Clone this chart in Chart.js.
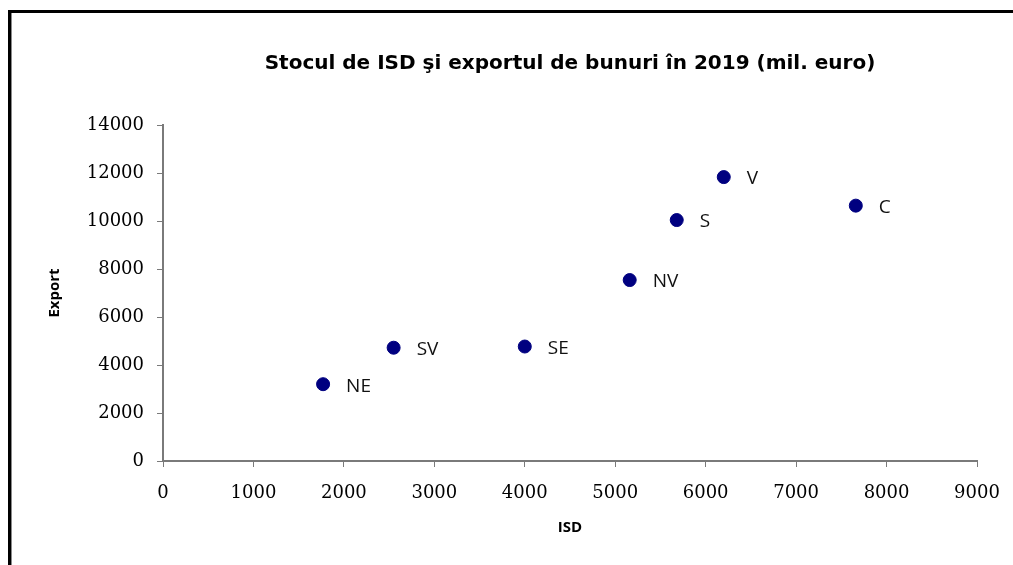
<!DOCTYPE html>
<html>
<head>
<meta charset="utf-8">
<title>Stocul de ISD si exportul de bunuri</title>
<script src="https://cdn.jsdelivr.net/npm/chart.js@4.4.1/dist/chart.umd.min.js"></script>
<style>
	body { margin: 0; background: #fff; }
	#chartBox { width: 1013px; height: 565px; }
</style>
</head>
<body>
<div id="chartBox"><canvas id="isdChart" width="1013" height="565"></canvas></div>
<script>
// values
var regions = ['NE', 'SV', 'SE', 'NV', 'S', 'V', 'C'];
var isdValues = [1770, 2550, 4000, 5160, 5680, 6200, 7660];
var exportValues = [3200, 4720, 4770, 7540, 10040, 11830, 10640];

var xTicks = [0, 1000, 2000, 3000, 4000, 5000, 6000, 7000, 8000, 9000];
var yTicks = [0, 2000, 4000, 6000, 8000, 10000, 12000, 14000];

var titleText = 'Stocul de ISD şi exportul de bunuri în 2019 (mil. euro)';
var xTitle = 'ISD';
var yTitle = 'Export';

var chart = {};

chart.points = function(){
	var pts = [];
	for (var i = 0; i < regions.length; i++) {
		pts.push({x: isdValues[i], y: exportValues[i]});
	}
	return pts;
};

// white page + the black frame of the original picture
chart.framePlugin = {
	id: 'frame',
	beforeDraw: function(c){
		var ctx = c.ctx;
		ctx.save();
		ctx.fillStyle = '#ffffff';
		ctx.fillRect(0, 0, c.width, c.height);
		ctx.restore();
	},
	afterDraw: function(c){
		var ctx = c.ctx;
		ctx.save();
		ctx.fillStyle = '#000000';
		ctx.fillRect(8, 10, c.width - 8, 3);
		ctx.fillRect(8, 10, 3, c.height - 10);
		ctx.fillStyle = '#8a8a8a';
		ctx.fillRect(11, 13, 1, c.height - 13);
		ctx.restore();
	}
};

// region names next to each point
chart.labelPlugin = {
	id: 'pointNames',
	afterDatasetsDraw: function(c){
		var ctx = c.ctx;
		var meta = c.getDatasetMeta(0);
		ctx.save();
		ctx.font = '19px "Open Sans"';
		ctx.fillStyle = '#111111';
		ctx.textAlign = 'left';
		ctx.textBaseline = 'middle';
		meta.data.forEach(function(el, i){
			ctx.fillText(regions[i], el.x + 23, el.y + 2);
		});
		ctx.restore();
	}
};

chart.plainTick = function(value){
	return String(value);
};

chart.init = function(){
	var ctx = document.getElementById('isdChart');

	chart.obj = new Chart(ctx, {
		type: 'scatter',
		data: {
			datasets: [{
				label: 'Regiuni',
				data: chart.points(),
				backgroundColor: '#000080',
				borderColor: '#000080',
				pointRadius: 6.5,
				pointHoverRadius: 6.5
			}]
		},
		options: {
			responsive: false,
			animation: false,
			layout: {
				padding: {left: 0, right: 36, top: 0, bottom: 0}
			},
			plugins: {
				legend: { display: false },
				tooltip: { enabled: false },
				title: {
					display: true,
					text: titleText,
					fullSize: false,
					color: '#000000',
					font: {family: '"DejaVu Sans"', weight: 'bold', size: 20, lineHeight: 1.2},
					padding: {top: 52, bottom: 49}
				}
			},
			scales: {
				x: {
					type: 'linear',
					position: 'bottom',
					min: 0,
					max: 9000,
					afterBuildTicks: function(s){
						s.ticks = xTicks.map(function(v){ return {value: v}; });
					},
					afterFit: function(s){
						s.height = 104;
						s.paddingLeft = 0;
						s.paddingRight = 0;
					},
					ticks: {
						color: '#000000',
						font: {family: '"DejaVu Serif"', size: 18},
						padding: 16,
						maxRotation: 0,
						callback: chart.plainTick
					},
					grid: {
						drawOnChartArea: false,
						drawTicks: true,
						tickLength: 6,
						color: '#7a7a7a',
						lineWidth: 1
					},
					border: { color: '#7a7a7a', width: 2 },
					title: {
						display: true,
						text: xTitle,
						color: '#000000',
						font: {family: '"Open Sans"', weight: 'bold', size: 15, lineHeight: 1.2},
						padding: {top: 0, bottom: 28}
					}
				},
				y: {
					type: 'linear',
					position: 'left',
					min: 0,
					max: 14000,
					afterBuildTicks: function(s){
						s.ticks = yTicks.map(function(v){ return {value: v}; });
					},
					afterFit: function(s){
						s.width = 163;
						s.paddingTop = 0;
						s.paddingBottom = 0;
					},
					ticks: {
						color: '#000000',
						font: {family: '"DejaVu Serif"', size: 18},
						padding: 13,
						callback: chart.plainTick
					},
					grid: {
						drawOnChartArea: false,
						drawTicks: true,
						tickLength: 6,
						color: '#7a7a7a',
						lineWidth: 1
					},
					border: { color: '#7a7a7a', width: 2 },
					title: {
						display: true,
						text: yTitle,
						color: '#000000',
						font: {family: '"Open Sans"', weight: 'bold', size: 15, lineHeight: 1.2},
						padding: {top: 46, bottom: 0}
					}
				}
			}
		},
		plugins: [chart.framePlugin, chart.labelPlugin]
	});
};

chart.init();
</script>
</body>
</html>
